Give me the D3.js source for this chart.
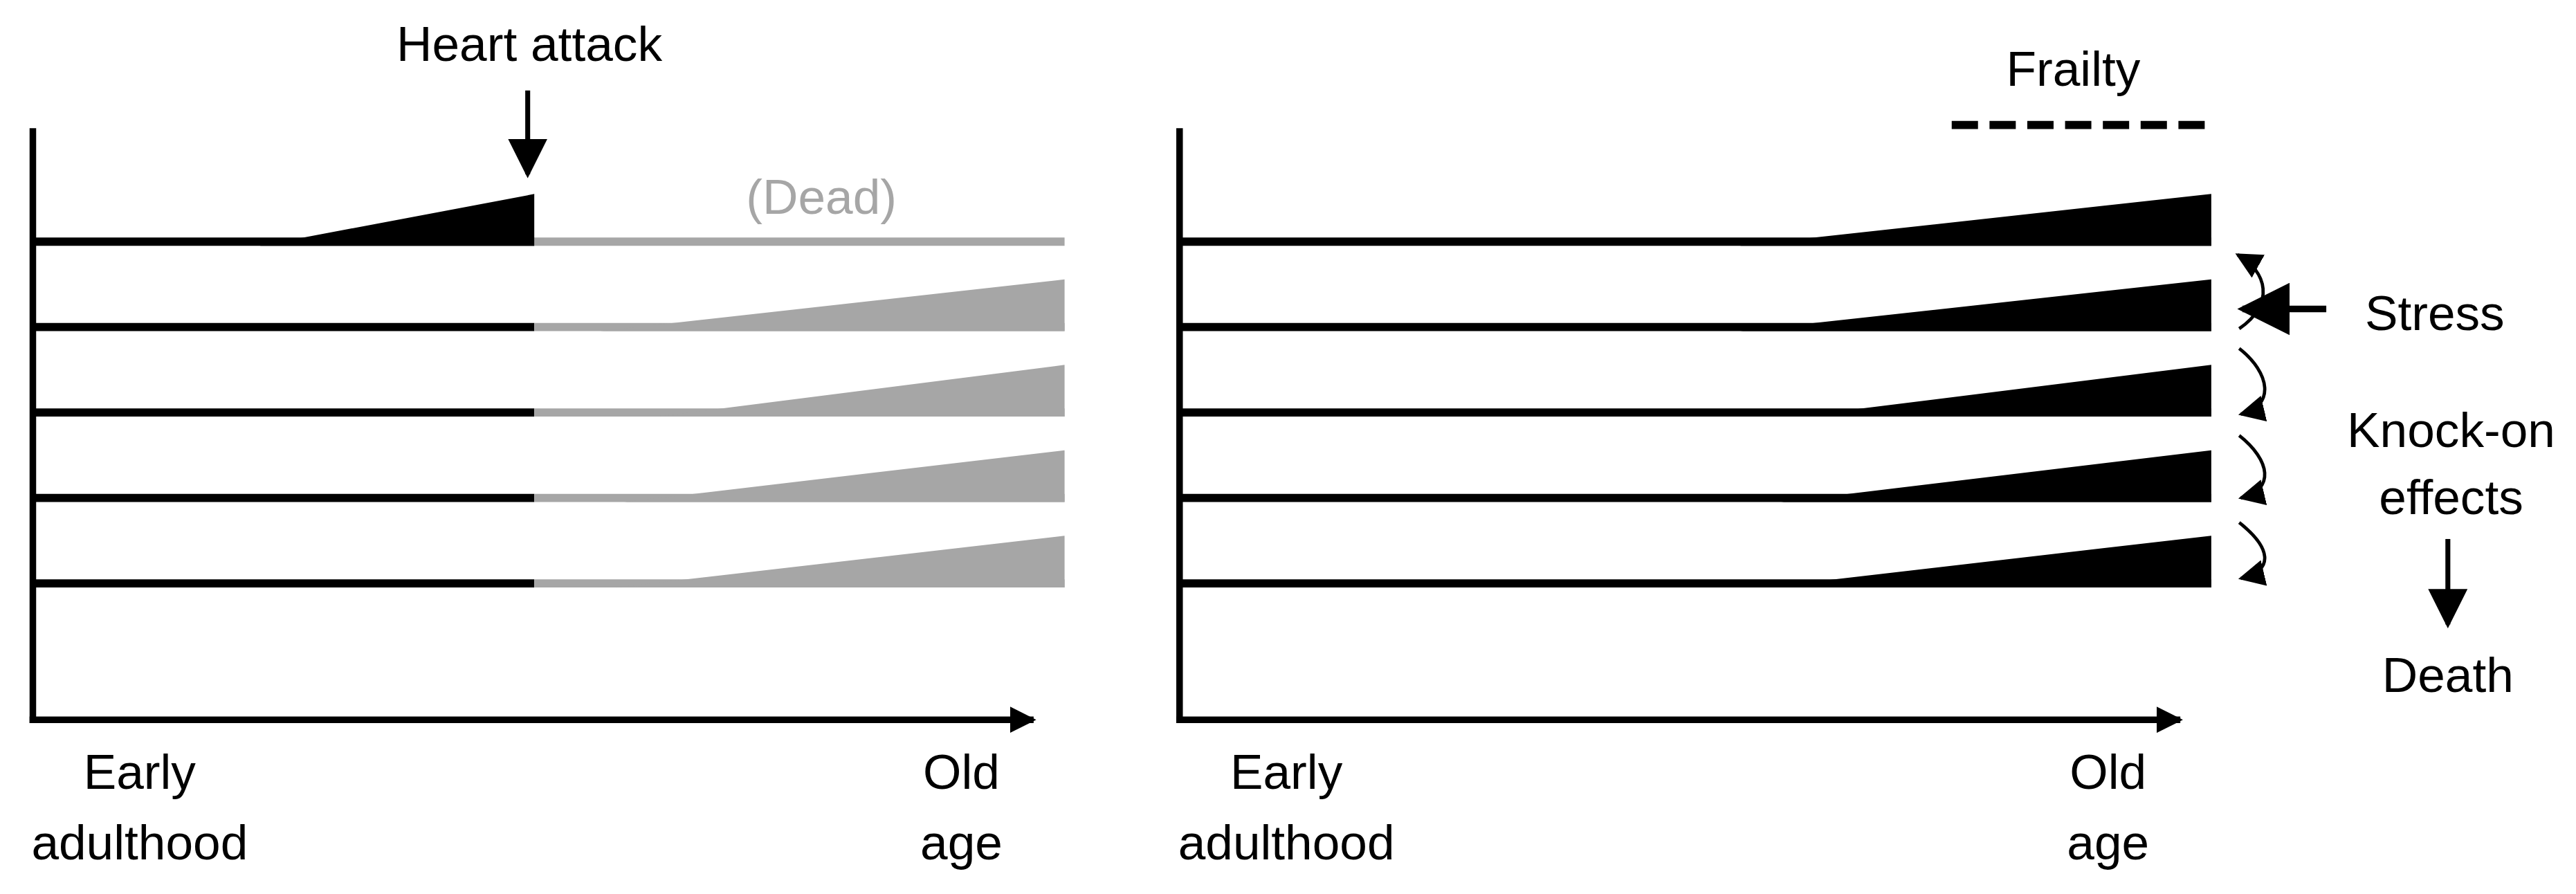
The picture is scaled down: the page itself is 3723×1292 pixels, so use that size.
<!DOCTYPE html>
<html><head><meta charset="utf-8">
<script src="https://cdn.jsdelivr.net/npm/d3@7"></script>
<style>body{margin:0;background:#fff}svg{display:block}text{font-family:"Liberation Sans",Arial,sans-serif}</style>
</head><body>
<script>
// ages run 0 (early adulthood) .. 100 (old age)
var rows = [1, 2, 3, 4, 5];
var leftStarts = [22, 55, 60.5, 57.3, 56.5];   // where decline begins, left panel
var rightStarts = [54.3, 54.3, 59.8, 58.3, 56.7];
var declineMax = 29;           // height of wedge at old age
var heartAttack = 48.6;
var axisLabels = [["Early", "adulthood"], ["Old", "age"]];
var arrowSpans = [[200, 155], [212, 252], [265, 303], [318, 352]]; // knock-on arrow y ranges

var W = 3723, H = 1292;
var svg = d3.select("body").append("svg").attr("width", W).attr("height", H)
  .attr("viewBox", "0 0 1568 544");
var defs = svg.append("defs");
defs.append("marker").attr("id", "ah").attr("viewBox", "0 0 10 10").attr("refX", 9).attr("refY", 5)
  .attr("markerWidth", 4).attr("markerHeight", 4).attr("orient", "auto")
  .append("path").attr("d", "M0,0L10,5L0,10Z").attr("fill", "#000");
defs.append("marker").attr("id", "ahs").attr("viewBox", "0 0 10 10").attr("refX", 9).attr("refY", 5)
  .attr("markerWidth", 8).attr("markerHeight", 8).attr("orient", "auto")
  .append("path").attr("d", "M0,0L10,5L0,10Z").attr("fill", "#000");

var y = d3.scaleLinear().domain([1, 5]).range([147, 355]);
var h = d3.scaleLinear().domain([0, 1]).range([0, declineMax]);

function panel(x0, starts, isLeft) {
  var x = d3.scaleLinear().domain([0, 100]).range([x0, x0 + 628]);
  var g = svg.append("g");
  // axes
  g.append("line").attr("x1", x(0)).attr("x2", x(0)).attr("y1", 78).attr("y2", 440)
    .attr("stroke", "#000").attr("stroke-width", 4);
  g.append("line").attr("x1", x(0) - 2).attr("x2", x(97)).attr("y1", 438).attr("y2", 438)
    .attr("stroke", "#000").attr("stroke-width", 4).attr("marker-end", "url(#ah)");
  rows.forEach(function(r, i) {
    var s = starts[i];
    var cut = isLeft ? heartAttack : 100;
    var col = isLeft ? (i === 0 ? "#000" : "#a6a6a6") : "#000";
    // black baseline up to cutoff
    g.append("line").attr("x1", x(0)).attr("x2", x(cut)).attr("y1", y(r)).attr("y2", y(r))
      .attr("stroke", "#000").attr("stroke-width", 5);
    if (isLeft) {
      g.append("line").attr("x1", x(cut)).attr("x2", x(100)).attr("y1", y(r)).attr("y2", y(r))
        .attr("stroke", "#a6a6a6").attr("stroke-width", 5);
    }
    if (isLeft && i === 0) {
      g.append("path").attr("fill", "#000")
        .attr("d", "M" + x(s) + "," + (y(r) + 2.5) + "L" + x(cut) + "," + (y(r) - h(1)) + "L" + x(cut) + "," + (y(r) + 2.5) + "Z");
    } else {
      g.append("path").attr("fill", col)
        .attr("d", "M" + x(s) + "," + (y(r) + 2.5) + "L" + x(100) + "," + (y(r) - h(1)) + "L" + x(100) + "," + (y(r) + 2.5) + "Z");
    }
  });
  [[x(0) + 65, "middle"], [x(90), "middle"]].forEach(function(p, j) {
    var t = g.append("text").attr("x", p[0]).attr("y", 480).attr("font-size", 30).attr("text-anchor", p[1]);
    t.append("tspan").attr("x", p[0]).text(axisLabels[j][0]);
    t.append("tspan").attr("x", p[0]).attr("dy", 43).text(axisLabels[j][1]);
  });
  return x;
}

var xl = panel(20, leftStarts, true);
var xr = panel(718, rightStarts, false);

// left annotations
svg.append("text").attr("x", xl(heartAttack) - 3).attr("y", 37).attr("font-size", 30)
  .attr("text-anchor", "middle").text("Heart attack");
svg.append("line").attr("x1", xl(heartAttack) - 4).attr("x2", xl(heartAttack) - 4).attr("y1", 55).attr("y2", 106)
  .attr("stroke", "#000").attr("stroke-width", 3).attr("marker-end", "url(#ahs)");
svg.append("text").attr("x", 500).attr("y", 130).attr("font-size", 30).attr("fill", "#a6a6a6")
  .attr("text-anchor", "middle").text("(Dead)");

// right annotations
svg.append("text").attr("x", 1262).attr("y", 52).attr("font-size", 30).attr("text-anchor", "middle").text("Frailty");
svg.append("line").attr("x1", 1188).attr("x2", xr(100)).attr("y1", 76).attr("y2", 76)
  .attr("stroke", "#000").attr("stroke-width", 5).attr("stroke-dasharray", "16,7");
arrowSpans.forEach(function(a, i) {
  var up = a[1] < a[0];
  var x1 = 1363, x2 = 1362;
  var d = up
    ? "M" + x1 + "," + a[0] + " C1385," + (a[0] - 15) + " 1380," + (a[1] + 10) + " " + x2 + "," + a[1]
    : "M" + x1 + "," + a[0] + " C1382," + (a[0] + 15) + " 1385," + (a[1] - 5) + " " + (x2 + 2) + "," + a[1];
  svg.append("path").attr("d", d).attr("fill", "none").attr("stroke", "#000").attr("stroke-width", 2)
    .attr("marker-end", "url(#ahs)");
});
svg.append("line").attr("x1", 1416).attr("x2", 1365).attr("y1", 188).attr("y2", 188)
  .attr("stroke", "#000").attr("stroke-width", 4).attr("marker-end", "url(#ahs)");
var rt = [["Stress", 1482, 201], ["Knock-on", 1492, 272], ["effects", 1492, 313], ["Death", 1490, 421]];
rt.forEach(function(t) {
  svg.append("text").attr("x", t[1]).attr("y", t[2]).attr("font-size", 30).attr("text-anchor", "middle").text(t[0]);
});
svg.append("line").attr("x1", 1490).attr("x2", 1490).attr("y1", 328).attr("y2", 380)
  .attr("stroke", "#000").attr("stroke-width", 3).attr("marker-end", "url(#ahs)");
</script>
</body></html>
